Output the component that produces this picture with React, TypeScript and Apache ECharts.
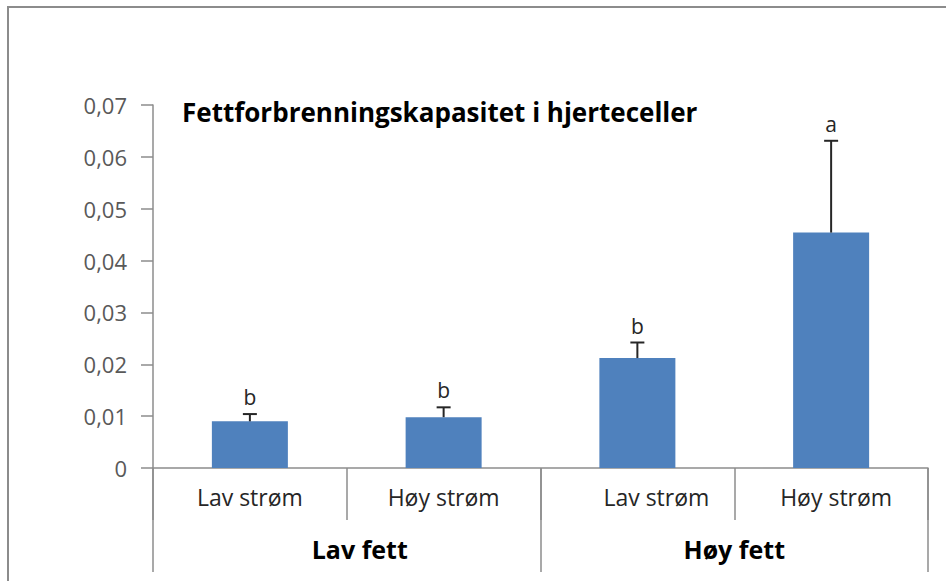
import React, { useEffect, useRef } from "react";
import * as echarts from "echarts";

const categories = ["Lav strøm", "Høy strøm", "Lav strøm", "Høy strøm"];
const groups = ["Lav fett", "Høy fett"];
const means = [0.009, 0.0098, 0.0212, 0.0454];
const upperErrors = [0.0014, 0.0019, 0.003, 0.0177];
const letters = ["b", "b", "b", "a"];
const yTicks = { min: 0, max: 0.07, interval: 0.01 };
const titleText = "Fettforbrenningskapasitet i hjerteceller";

export default function App() {
  const ref = useRef<HTMLDivElement>(null);
  useEffect(() => {
    document.body.style.margin = "0";
    const chart = echarts.init(ref.current!, null, { renderer: "svg" });
    const font = "'Open Sans', 'Noto Sans', sans-serif";
    const errData = means.map((m, i) => [i, m, m + upperErrors[i], letters[i]]);
    const catPadding = [[0, 0, 0, 0], [0, 0, 10, 0], [0, 0, 0, 38], [0, 0, 0, 10]];
    const groupPadding = [[0, 0, 0, 26], [0, 0, 0, 0]];
    chart.setOption({
      animation: false,
      backgroundColor: "#ffffff",
      title: {
        text: titleText,
        left: 177,
        top: 94,
        textStyle: { fontFamily: font, fontWeight: "bold", fontSize: 26, color: "#000000" },
      },
      graphic: [
        {
          type: "rect",
          shape: { x: 8, y: 7, width: 1200, height: 1200 },
          style: { fill: "none", stroke: "#8c8c8c", lineWidth: 2 },
          silent: true,
        },
      ],
      grid: { left: 153, right: 18, top: 105, bottom: 113 },
      xAxis: [
        {
          type: "category",
          data: categories.map((c, i) => ({ value: c, textStyle: { padding: catPadding[i] } })),
          position: "bottom",
          axisLine: { show: true, lineStyle: { color: "#8c8c8c", width: 1.5 } },
          axisTick: { show: true, interval: 0, length: 52, lineStyle: { color: "#8c8c8c", width: 1.5 } },
          axisLabel: { interval: 0, margin: 17, fontFamily: font, fontSize: 23, color: "#262626" },
        },
        {
          type: "category",
          data: groups.map((g, i) => ({ value: g, textStyle: { padding: groupPadding[i] } })),
          position: "bottom",
          axisLine: { show: false },
          axisTick: { show: true, interval: 0, length: 104, lineStyle: { color: "#8c8c8c", width: 1.5 } },
          axisLabel: { interval: 0, margin: 68, fontFamily: font, fontSize: 25, fontWeight: "bold", color: "#000000" },
        },
      ],
      yAxis: {
        type: "value",
        min: yTicks.min,
        max: yTicks.max,
        interval: yTicks.interval,
        splitLine: { show: false },
        axisLine: { show: true, lineStyle: { color: "#8c8c8c", width: 1.5 } },
        axisTick: { show: true, length: 12, lineStyle: { color: "#8c8c8c", width: 1.5 } },
        axisLabel: {
          margin: 26,
          fontFamily: font,
          fontSize: 22,
          color: "#595959",
          formatter: (v: number) => (v === 0 ? "0" : v.toFixed(2).replace(".", ",")),
        },
      },
      series: [
        {
          type: "bar",
          data: means,
          barWidth: 76,
          itemStyle: { color: "#4f81bd" },
          xAxisIndex: 0,
        },
        {
          type: "custom",
          xAxisIndex: 0,
          data: errData,
          z: 10,
          renderItem: (params: any, api: any) => {
            const x = api.value(0);
            const base = api.coord([x, api.value(1)]);
            const top = api.coord([x, api.value(2)]);
            const letter = letters[params.dataIndex];
            const cap = 7;
            return {
              type: "group",
              children: [
                {
                  type: "line",
                  shape: { x1: base[0], y1: base[1], x2: top[0], y2: top[1] },
                  style: { stroke: "#262626", lineWidth: 2 },
                },
                {
                  type: "line",
                  shape: { x1: top[0] - cap, y1: top[1], x2: top[0] + cap, y2: top[1] },
                  style: { stroke: "#262626", lineWidth: 2 },
                },
                {
                  type: "text",
                  x: top[0],
                  y: top[1] - 17,
                  style: {
                    text: letter,
                    fontFamily: font,
                    fontSize: 21,
                    fill: "#262626",
                    align: "center",
                    verticalAlign: "middle",
                  },
                },
              ],
            };
          },
        },
      ],
    });
    return () => chart.dispose();
  }, []);
  return <div ref={ref} style={{ width: 946, height: 581 }} />;
}
